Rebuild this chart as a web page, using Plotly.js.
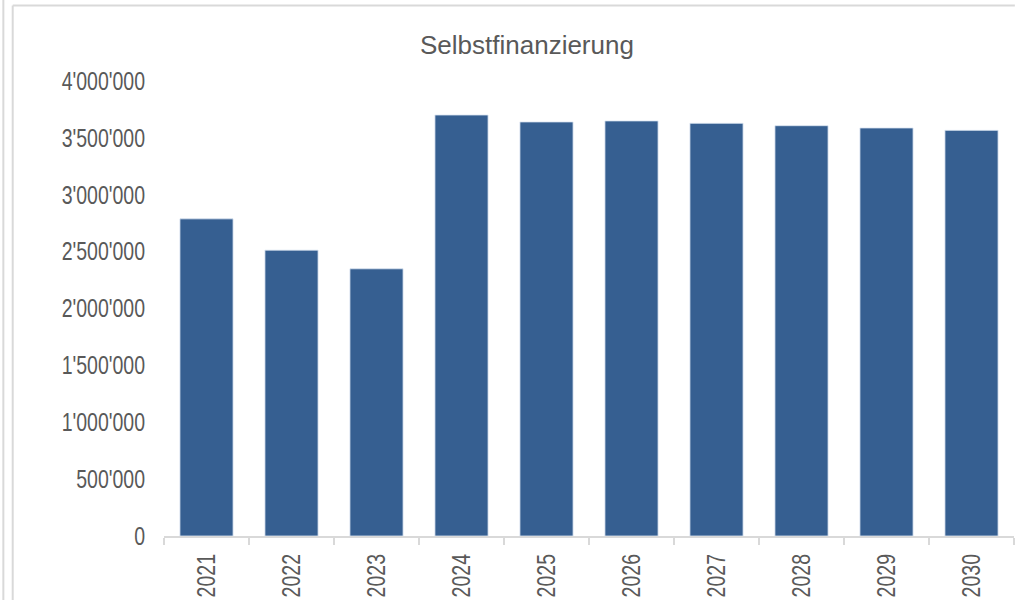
<!DOCTYPE html>
<html>
<head>
<meta charset="utf-8">
<script src="https://cdn.plot.ly/plotly-3.0.1.min.js"></script>
<style>
  html, body { margin: 0; padding: 0; background: #fff; }
  #graph { width: 1022px; height: 600px; }
</style>
</head>
<body>
<div id="graph"></div>
<script>
// Jahre und Selbstfinanzierung (CHF)
var years = ['2021', '2022', '2023', '2024', '2025', '2026', '2027', '2028', '2029', '2030'];
var selbstfinanzierung = [2788000, 2513000, 2349000, 3701000, 3640000, 3649000, 3628000, 3607000, 3587000, 3566000];
var yTicks = [0, 500000, 1000000, 1500000, 2000000, 2500000, 3000000, 3500000, 4000000];

var sans = '"Liberation Sans", Arial, sans-serif';
var grey = '#595959';
var frame = '#D9D9D9';
// the original uses a narrow face for the axis labels, none is installed so squeeze them
var narrowFactor = 0.78;

var bars = {
    x: years,
    y: selbstfinanzierung,
    type: 'bar',
    marker: {
        color: '#365F91',
        line: {color: 'rgba(220,230,242,0.8)', width: 1}
    },
    hoverinfo: 'x+y'
};

var layout = {
    width: 1022,
    height: 600,
    margin: {l: 164, r: 8, t: 81, b: 64},
    paper_bgcolor: '#ffffff',
    plot_bgcolor: '#ffffff',
    showlegend: false,
    separators: ".'",
    bargap: 0.375,
    title: {
        text: 'Selbstfinanzierung',
        font: {family: sans, size: 26, color: grey},
        xref: 'paper', x: 0.427, xanchor: 'center',
        yref: 'container', y: 0.925, yanchor: 'middle'
    },
    xaxis: {
        type: 'category',
        showline: true,
        linecolor: frame,
        linewidth: 2,
        ticks: 'outside',
        ticklen: 7,
        tickcolor: frame,
        tickwidth: 2,
        tickson: 'boundaries',
        tickangle: -90,
        ticklabelstandoff: 6,
        tickfont: {family: sans, size: 25, color: grey},
        showgrid: false,
        automargin: false
    },
    yaxis: {
        range: [0, 4000000],
        tickvals: yTicks,
        tickformat: ',d',
        showline: false,
        showgrid: false,
        zeroline: false,
        ticks: '',
        ticklabelstandoff: 18,
        tickfont: {family: sans, size: 25, color: grey},
        automargin: false
    },
    shapes: [
        {type: 'line', xref: 'paper', yref: 'paper', x0: -0.178, x1: 1.001, y0: 1.166, y1: 1.166,
         line: {color: frame, width: 2}},
        {type: 'line', xref: 'paper', yref: 'paper', x0: -0.178, x1: -0.178, y0: 1.166, y1: -0.15,
         line: {color: frame, width: 2}},
        {type: 'line', xref: 'paper', yref: 'paper', x0: -0.189, x1: -0.189, y0: 1.2, y1: -0.15,
         line: {color: frame, width: 2}}
    ]
};

Plotly.newPlot('graph', [bars], layout, {staticPlot: true}).then(function (gd) {
    var labels = gd.querySelectorAll('.xtick text, .ytick text');
    labels.forEach(function (t) {
        var len = t.getComputedTextLength();
        t.setAttribute('textLength', len * narrowFactor);
        t.setAttribute('lengthAdjust', 'spacingAndGlyphs');
    });
});
</script>
</body>
</html>
